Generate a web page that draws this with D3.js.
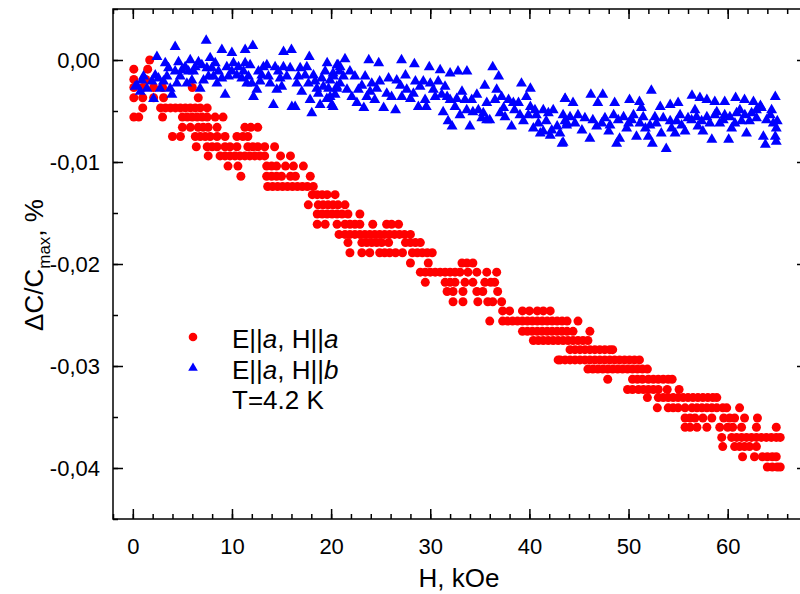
<!DOCTYPE html>
<html>
<head>
<meta charset="utf-8">
<script src="https://cdn.jsdelivr.net/npm/d3@7"></script>
<style>
  body { margin: 0; background: #fff; }
  svg { display: block; font-family: Arial, "Liberation Sans", sans-serif; }
</style>
</head>
<body>
<div id="chart"></div>
<script>
// red series E||a, H||a : each row is [dC/C level, list of H (kOe)]
var redRows = [
  [0.0000, [1.7]],
  [-0.0009, [0.1, 1.5]],
  [-0.0019, [0.1, 1.3]],
  [-0.0027, [0.1, 1.0, 2.1, 3.0, 6.0]],
  [-0.0037, [0.1, 1.0, 2.1, 3.1, 6.6]],
  [-0.0047, [1.0, 2.8, 3.3, 3.8, 4.3, 4.8, 5.3, 5.8, 6.3, 6.8, 7.5]],
  [-0.0056, [0.1, 0.6, 3.0, 5.0, 5.5, 6.0, 6.5, 7.0, 7.5, 8.3, 9.1]],
  [-0.0066, [5.0, 5.8, 6.6, 7.1, 7.6, 8.5, 11.3, 11.9, 12.6]],
  [-0.0075, [4.0, 4.8, 6.3, 6.8, 7.3, 7.8, 8.5, 9.3, 10.5, 11.1, 11.6]],
  [-0.0085, [6.4, 7.5, 8.0, 8.5, 9.3, 9.8, 10.5, 11.6, 12.1, 12.6, 13.3, 14.3]],
  [-0.0094, [7.6, 8.8, 9.3, 9.8, 10.3, 10.8, 11.3, 11.8, 12.3, 12.8, 13.3, 14.9, 15.9]],
  [-0.0104, [9.6, 10.6, 13.5, 14.0, 14.5, 15.4, 16.2, 17.2]],
  [-0.0114, [10.9, 13.5, 14.0, 14.5, 15.0, 15.9, 16.4, 17.9]],
  [-0.0124, [13.6, 14.1, 14.6, 15.1, 15.6, 16.1, 16.6, 17.1, 17.6, 18.2]],
  [-0.0132, [18.1, 18.6, 19.1, 19.6, 20.4]],
  [-0.0142, [17.7, 18.7, 19.2, 19.7, 20.2, 20.7, 21.4]],
  [-0.0151, [18.6, 19.1, 19.6, 20.1, 20.6, 21.1, 21.7, 22.9]],
  [-0.0161, [18.6, 19.4, 20.6, 21.4, 21.9, 22.4, 22.9, 24.2, 25.6, 26.1, 26.8]],
  [-0.0171, [20.8, 21.4, 21.9, 22.4, 22.9, 23.4, 23.9, 24.4, 24.9, 25.4, 25.9, 26.4, 26.9, 27.4, 28.0]],
  [-0.0179, [21.7, 23.1, 23.6, 24.1, 24.6, 25.1, 25.8, 27.5, 28.0, 28.5, 29.0]],
  [-0.0189, [21.9, 23.1, 23.9, 24.9, 25.4, 25.9, 26.5, 27.2, 28.2, 28.7, 29.2, 29.7, 30.2]],
  [-0.0199, [28.0, 29.8, 33.2, 33.7, 34.3]],
  [-0.0208, [29.0, 29.5, 30.0, 30.5, 31.0, 31.5, 32.0, 32.5, 33.0, 33.8, 34.7, 35.7, 36.7]],
  [-0.0218, [29.5, 31.5, 32.0, 32.5, 33.5, 34.3, 35.5, 36.1, 36.5]],
  [-0.0227, [31.7, 32.3, 33.3, 34.7, 35.3, 36.8]],
  [-0.0237, [32.3, 33.3, 34.8, 35.8, 36.3, 37.2]],
  [-0.0246, [37.3, 38.0, 39.3, 40.0, 40.8, 41.4, 42.1]],
  [-0.0256, [36.0, 37.3, 37.8, 38.3, 38.8, 39.3, 39.8, 40.3, 40.8, 41.3, 41.8, 42.3, 42.8, 43.3, 43.8, 44.9]],
  [-0.0266, [39.3, 39.8, 40.3, 40.8, 41.3, 41.8, 42.3, 42.8, 43.3, 43.8, 44.4, 46.1]],
  [-0.0275, [40.4, 40.9, 41.4, 41.9, 42.4, 42.9, 43.4, 43.9, 44.4, 44.9, 45.4, 45.9]],
  [-0.0284, [44.1, 44.6, 45.1, 45.6, 46.1, 46.6, 47.1, 47.6, 48.1, 48.4]],
  [-0.0294, [42.9, 43.1, 43.6, 44.1, 44.6, 45.1, 45.6, 46.1, 46.6, 47.1, 47.6, 48.1, 48.6, 49.1, 49.6, 50.1, 50.6, 51.1]],
  [-0.0303, [45.9, 46.4, 46.9, 47.4, 47.9, 48.4, 48.9, 49.4, 49.9, 50.4, 50.9, 51.4, 51.9]],
  [-0.0313, [47.9, 50.4, 50.9, 51.4, 52.0, 52.5, 53.0, 53.5, 54.0, 54.4]],
  [-0.0323, [49.9, 50.4, 51.0, 51.5, 52.0, 52.5, 53.0, 53.9, 55.1]],
  [-0.0331, [51.9, 53.0, 53.5, 54.0, 54.5, 55.0, 55.5, 56.0, 56.5, 57.0, 57.5, 58.0, 58.5, 58.9]],
  [-0.0341, [52.9, 54.0, 54.5, 55.0, 55.7, 56.4, 56.9, 57.4, 57.9, 58.4, 58.9, 59.5, 59.9, 61.2]],
  [-0.0351, [55.7, 56.2, 56.7, 57.5, 58.4, 59.6, 60.2, 60.7, 61.7, 63.0]],
  [-0.0360, [55.7, 56.2, 56.9, 57.9, 59.2, 60.0, 60.5, 61.4, 62.9, 64.9]],
  [-0.0370, [59.4, 60.4, 60.9, 61.4, 61.9, 62.4, 62.9, 63.4, 63.9, 64.4, 64.9, 65.3]],
  [-0.0379, [59.5, 60.7, 61.2, 61.7, 62.2, 62.9]],
  [-0.0389, [61.5, 62.7, 63.5, 64.0, 64.5, 64.9]],
  [-0.0399, [64.0, 64.5, 65.0, 65.3]]
];

// blue series E||a, H||b : [H (kOe), dC/C]
var bluePoints = [
  [2.43, 0.0003], [4.27, 0.0013], [7.40, 0.0019], [8.98, 0.0010], [9.99, 0.0007], [11.33, 0.0010],
  [12.1, 0.0014], [15.2, 0.0008], [16.0, 0.0010], [17.8, 0.0003], [19.6, -0.0003], [20.7, -0.0005],
  [1.08, -0.0016], [0.41, -0.0025], [0.75, -0.0031], [2.09, -0.0038], [2.76, -0.0028], [3.27, -0.0003],
  [3.44, -0.0016], [3.94, -0.0034], [4.44, -0.0023], [4.95, -0.0010], [5.45, -0.0023], [5.79, 0.0000],
  [6.12, -0.0011], [6.79, -0.0028], [6.96, -0.0005], [7.47, -0.0008], [7.80, 0.0002], [8.14, -0.0016],
  [8.48, -0.0023], [9.31, -0.0034], [9.48, -0.0007], [10.15, -0.0003], [10.49, -0.0015], [11.16, -0.0011],
  [11.50, -0.0023], [11.83, -0.0005], [12.17, -0.0036], [12.51, -0.0029], [13.01, -0.0015], [13.52, -0.0005],
  [13.85, -0.0023], [14.18, -0.0044], [14.52, -0.0029], [14.86, -0.0018], [15.19, -0.0007], [16.04, -0.0046],
  [16.37, -0.0046], [16.54, -0.0023], [16.88, -0.0008], [17.55, -0.0007], [17.88, -0.0039], [18.05, -0.0052],
  [18.39, -0.0021], [18.72, -0.0033], [18.89, -0.0044], [19.22, -0.0026], [19.57, -0.0038], [19.90, -0.0020],
  [20.07, -0.0044], [20.57, -0.0026], [20.91, -0.0007],
  [0.24, -0.0026], [0.92, -0.0020], [1.42, -0.0028], [1.93, -0.0021], [2.26, -0.0015], [2.59, -0.0018],
  [3.09, -0.0021], [3.60, -0.0008], [3.77, -0.0028], [4.27, -0.0011], [4.61, -0.0002], [4.78, -0.0016],
  [5.28, -0.0007], [5.61, -0.0011], [5.96, -0.0020], [6.29, -0.0007], [6.62, -0.0002], [7.13, -0.0020],
  [7.63, -0.0016], [7.97, -0.0008], [8.31, -0.0003], [8.64, -0.0011], [8.98, -0.0018], [9.65, -0.0016],
  [9.99, -0.0011], [10.66, -0.0007], [10.99, -0.0018], [11.33, -0.0003], [11.66, -0.0016], [12.01, -0.0023],
  [12.67, -0.0011], [12.84, -0.0021], [13.17, -0.0007], [13.68, -0.0016], [14.35, -0.0007], [14.68, -0.0011],
  [15.02, -0.0026], [15.53, -0.0016], [15.87, -0.0008], [16.70, -0.0016], [17.04, -0.0031], [17.38, -0.0015],
  [17.71, -0.0023], [18.22, -0.0015], [18.56, -0.0028], [19.06, -0.0018], [19.40, -0.0011], [19.74, -0.0028],
  [20.23, -0.0016], [20.40, -0.0034], [20.84, -0.0011],
  [21.4, 0.0001], [20.6, -0.0005], [23.8, 0.0000], [24.8, -0.0003], [27.1, 0.0000], [28.4, -0.0004],
  [29.9, -0.0007], [31.0, -0.0010], [32.0, -0.0013], [32.8, -0.0011], [33.7, -0.0011], [36.3, -0.0007],
  [36.9, -0.0016], [39.2, -0.0023], [40.1, -0.0028], [43.6, -0.0038],
  [20.2, -0.0013], [19.9, -0.0036], [20.2, -0.0046], [20.9, -0.0023], [21.6, -0.0029], [21.9, -0.0011],
  [22.4, -0.0016], [22.6, -0.0042], [23.1, -0.0025], [23.3, -0.0047], [23.6, -0.0036], [24.1, -0.0023],
  [24.4, -0.0039], [24.9, -0.0021], [25.3, -0.0047], [25.8, -0.0018], [26.1, -0.0036], [26.5, -0.0049],
  [27.0, -0.0025], [27.5, -0.0015], [28.0, -0.0038], [28.5, -0.0021], [28.8, -0.0046], [29.3, -0.0021],
  [29.6, -0.0046], [30.0, -0.0023], [30.5, -0.0036], [30.8, -0.0021], [31.3, -0.0051], [31.7, -0.0036],
  [31.8, -0.0060], [32.2, -0.0065], [32.5, -0.0046], [33.2, -0.0031], [33.5, -0.0039], [34.0, -0.0065],
  [34.3, -0.0051], [34.7, -0.0034], [35.2, -0.0057], [35.5, -0.0025], [35.7, -0.0042], [36.0, -0.0059],
  [36.7, -0.0029], [37.2, -0.0036], [37.4, -0.0047], [37.9, -0.0039], [38.2, -0.0065], [38.5, -0.0049],
  [38.9, -0.0042], [39.4, -0.0060], [39.7, -0.0036], [40.1, -0.0046], [40.4, -0.0067], [40.7, -0.0054],
  [41.1, -0.0072], [41.4, -0.0049], [41.7, -0.0060], [42.1, -0.0074], [42.4, -0.0049], [42.8, -0.0065],
  [43.3, -0.0082], [43.4, -0.0054], [43.8, -0.0062],
  [20.57, -0.0028], [21.24, -0.0016], [22.09, -0.0036], [22.75, -0.0029], [23.43, -0.0016], [23.93, -0.0031],
  [24.60, -0.0028], [25.61, -0.0033], [26.62, -0.0020], [27.13, -0.0036], [27.63, -0.0029], [28.30, -0.0033],
  [28.97, -0.0026], [29.48, -0.0039], [30.31, -0.0029], [31.16, -0.0034], [31.49, -0.0026], [32.00, -0.0039],
  [32.67, -0.0038], [33.00, -0.0054], [33.68, -0.0049], [34.18, -0.0039], [34.85, -0.0049], [35.35, -0.0052],
  [35.69, -0.0059], [36.53, -0.0039], [37.04, -0.0052], [37.54, -0.0056], [38.38, -0.0042], [39.05, -0.0054],
  [39.89, -0.0054], [40.56, -0.0049], [40.90, -0.0062], [41.40, -0.0070], [41.91, -0.0052], [42.25, -0.0069],
  [43.08, -0.0072], [43.59, -0.0060],
  [43.6, -0.0038], [44.4, -0.0042], [46.2, -0.0034], [47.4, -0.0034], [46.9, -0.0042], [48.6, -0.0042],
  [50.1, -0.0039], [51.1, -0.0041], [52.3, -0.0030], [53.2, -0.0046], [54.2, -0.0044], [55.0, -0.0042],
  [56.4, -0.0035], [57.2, -0.0037], [57.9, -0.0039], [58.7, -0.0041], [59.7, -0.0041], [60.8, -0.0037],
  [61.7, -0.0039], [62.6, -0.0041], [63.3, -0.0045], [64.8, -0.0036],
  [43.4, -0.0081], [44.1, -0.0056], [44.9, -0.0054], [45.3, -0.0069], [46.1, -0.0077], [46.4, -0.0059],
  [47.3, -0.0062], [48.0, -0.0070], [48.5, -0.0054], [48.8, -0.0082], [49.1, -0.0077], [49.5, -0.0056],
  [50.0, -0.0062], [50.5, -0.0054], [50.8, -0.0075], [51.3, -0.0047], [51.7, -0.0067], [52.0, -0.0075],
  [52.4, -0.0082], [52.8, -0.0062], [53.3, -0.0072], [53.8, -0.0087], [54.2, -0.0060], [54.7, -0.0072],
  [55.2, -0.0054], [55.7, -0.0070], [56.0, -0.0057], [56.7, -0.0049], [57.0, -0.0065], [57.5, -0.0070],
  [57.9, -0.0056], [58.4, -0.0078], [58.9, -0.0051], [59.2, -0.0062], [59.7, -0.0054], [60.1, -0.0078],
  [60.4, -0.0067], [60.9, -0.0052], [61.4, -0.0060], [61.9, -0.0072], [62.2, -0.0060], [62.9, -0.0049],
  [63.6, -0.0075], [63.8, -0.0083], [64.3, -0.0054], [64.6, -0.0062], [64.8, -0.0075], [64.9, -0.0067],
  [64.9, -0.0080], [63.4, -0.0047],
  [43.76, -0.0064], [44.60, -0.0062], [45.60, -0.0057], [46.78, -0.0065], [47.62, -0.0057], [48.13, -0.0064],
  [48.96, -0.0059], [49.81, -0.0067], [50.31, -0.0059], [51.15, -0.0062], [51.48, -0.0056], [52.16, -0.0064],
  [52.66, -0.0056], [53.50, -0.0057], [54.34, -0.0067], [54.85, -0.0060], [55.35, -0.0064], [56.36, -0.0059],
  [56.86, -0.0056], [57.37, -0.0060], [58.20, -0.0062], [58.71, -0.0054], [59.55, -0.0059], [60.22, -0.0056],
  [60.73, -0.0062], [61.23, -0.0049], [61.73, -0.0054], [62.41, -0.0052], [62.91, -0.0057], [63.92, -0.0059],
  [64.43, -0.0049], [65.00, -0.0060]
];

var xTicks = [0, 10, 20, 30, 40, 50, 60];
var yTicks = [0, -0.01, -0.02, -0.03, -0.04];
var legendLabels = [
  {main: 'E||', it1: 'a', mid: ', H||', it2: 'a'},
  {main: 'E||', it1: 'a', mid: ', H||', it2: 'b'}
];

var width = 800, height = 594;
var plotL = 113, plotR = 807, plotT = 9, plotB = 519;

var x = d3.scaleLinear().domain([-2, 68]).range([plotL, plotR]);
var y = d3.scaleLinear().domain([-0.045, 0.005]).range([plotB, plotT]);

var svg = d3.select('#chart')
  .append('svg')
  .attr('width', width)
  .attr('height', height);

var fmtY = function(d){ return d3.format('.2f')(d).replace('.', ',').replace('\u2212', '-'); };

// minor ticks
var xMinor = d3.range(-2, 68.01, 2);
var yMinor = d3.range(-0.045, 0.0051, 0.005);

svg.append('g')
  .attr('transform', 'translate(0,' + plotB + ')')
  .call(d3.axisBottom(x).tickValues(xMinor).tickSize(-5).tickFormat(''));
svg.append('g')
  .attr('transform', 'translate(0,' + plotT + ')')
  .call(d3.axisTop(x).tickValues(xMinor).tickSize(-5).tickFormat(''));
svg.append('g')
  .attr('transform', 'translate(' + plotL + ',0)')
  .call(d3.axisLeft(y).tickValues(yMinor).tickSize(-5).tickFormat(''));
svg.append('g')
  .attr('transform', 'translate(' + plotR + ',0)')
  .call(d3.axisRight(y).tickValues(yMinor).tickSize(-5).tickFormat(''));

// major ticks + labels
svg.append('g')
  .attr('transform', 'translate(0,' + plotB + ')')
  .call(d3.axisBottom(x).tickValues(xTicks).tickSize(-10).tickPadding(19).tickFormat(d3.format('d')));
svg.append('g')
  .attr('transform', 'translate(0,' + plotT + ')')
  .call(d3.axisTop(x).tickValues(xTicks).tickSize(-10).tickFormat(''));
svg.append('g')
  .attr('transform', 'translate(' + plotL + ',0)')
  .call(d3.axisLeft(y).tickValues(yTicks).tickSize(-10).tickPadding(13).tickFormat(fmtY));
svg.append('g')
  .attr('transform', 'translate(' + plotR + ',0)')
  .call(d3.axisRight(y).tickValues(yTicks).tickSize(-10).tickFormat(''));

svg.selectAll('.domain').remove();
svg.selectAll('.tick line').attr('stroke', '#000').attr('stroke-width', 1.5);
svg.selectAll('.tick text')
  .attr('fill', '#000')
  .style('font-family', 'Arial, "Liberation Sans", sans-serif')
  .style('font-size', '22px');

// frame
svg.append('rect')
  .attr('x', plotL)
  .attr('y', plotT)
  .attr('width', plotR - plotL)
  .attr('height', plotB - plotT)
  .attr('fill', 'none')
  .attr('stroke', '#000')
  .attr('stroke-width', 1.5);

// red points
var redPoints = [];
redRows.forEach(function(r){
  r[1].forEach(function(h){ redPoints.push([h, r[0]]); });
});

svg.append('g').selectAll('circle')
  .data(redPoints)
  .enter()
  .append('circle')
  .attr('cx', function(d){ return x(d[0]) })
  .attr('cy', function(d){ return y(d[1]) })
  .attr('r', 4.5)
  .attr('fill', '#ff0000');

var tri = d3.symbol().type(d3.symbolTriangle).size(52);

svg.append('g').selectAll('path')
  .data(bluePoints)
  .enter()
  .append('path')
  .attr('d', tri)
  .attr('transform', function(d){ return 'translate(' + x(d[0]) + ',' + y(d[1]) + ')' })
  .attr('fill', '#0000ff');

// axis titles
svg.append('text')
  .attr('x', 459)
  .attr('y', 587)
  .attr('text-anchor', 'middle')
  .style('font-size', '26px')
  .text('H, kOe');

var yt = svg.append('text')
  .attr('transform', 'translate(43,265) rotate(-90)')
  .attr('text-anchor', 'middle')
  .style('font-size', '26px');
yt.append('tspan').text('\u0394C/C');
yt.append('tspan').attr('dy', 7).style('font-size', '17px').text('max');
yt.append('tspan').attr('dy', -7).text(', %');

// legend
var leg = svg.append('g');
leg.append('circle').attr('cx', 193).attr('cy', 337).attr('r', 4.3).attr('fill', '#ff0000');
leg.append('path')
  .attr('d', d3.symbol().type(d3.symbolTriangle).size(40))
  .attr('transform', 'translate(193,368)')
  .attr('fill', '#0000ff');

legendLabels.forEach(function(l, i){
  var t = leg.append('text')
    .attr('x', 232)
    .attr('y', 348 + i * 31)
    .style('font-size', '26px');
  t.append('tspan').text(l.main);
  t.append('tspan').style('font-style', 'italic').text(l.it1);
  t.append('tspan').text(l.mid);
  t.append('tspan').style('font-style', 'italic').text(l.it2);
});
leg.append('text')
  .attr('x', 232)
  .attr('y', 409)
  .style('font-size', '26px')
  .text('T=4.2 K');
</script>
</body>
</html>
